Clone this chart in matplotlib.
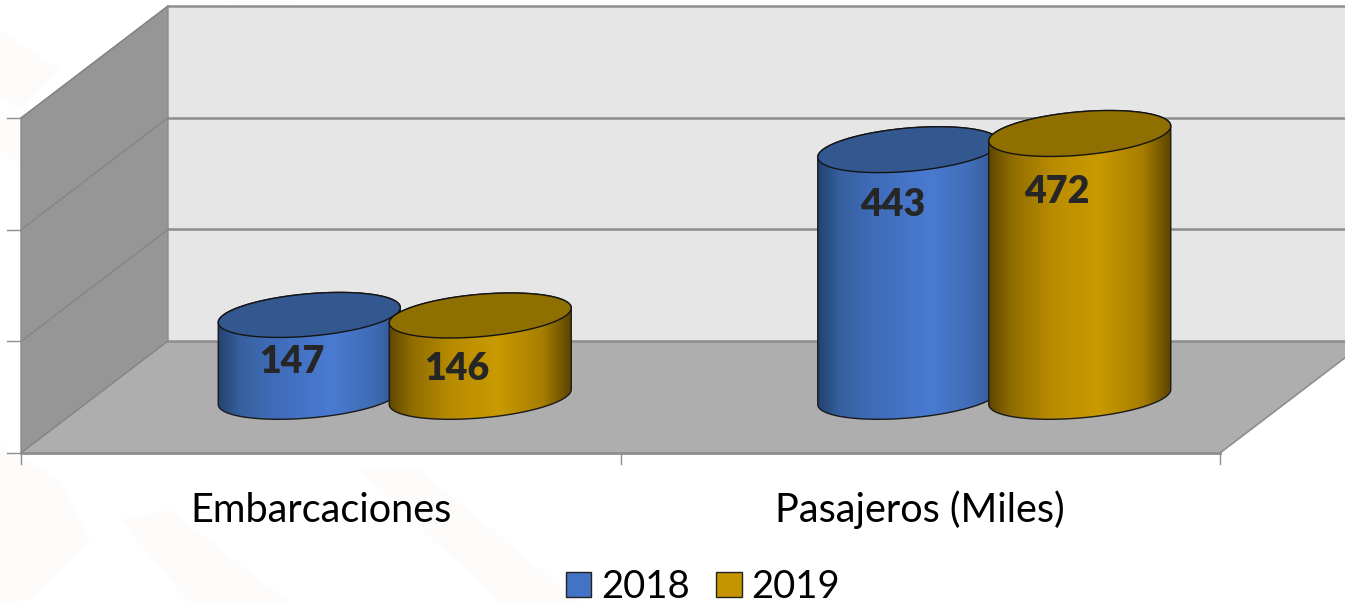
import numpy as np
import matplotlib
matplotlib.use("Agg")
import matplotlib.pyplot as plt
from matplotlib.colors import LinearSegmentedColormap
from matplotlib.patches import Polygon, Patch

categories = ["Embarcaciones", "Pasajeros (Miles)"]
years = ["2018", "2019"]
values_2018 = [147, 443]
values_2019 = [146, 472]
y_ticks = [0, 200, 400, 600]

plt.rcParams["font.family"] = ["Lato", "DejaVu Sans"]

W, H = 1345, 603
PX = 0.5583  # pixels per unit of value
Y0 = 453     # pixel row of value 0 on the front edge
DX, DY = 147, 112  # depth of the 3d box, pixels
X0, CAT_W = 21, 599.5


def u(px):
    # pixels to value units
    return px / PX


fig = plt.figure(figsize=(W / 100, H / 100), dpi=100)
ax = fig.add_axes([0, 0, 1, 1])
ax.set_xlim(0, W)
ax.set_ylim(u(Y0 - H), u(Y0))
ax.axis("off")

# faint watermark behind the chart
for band in [[(0, 30), (60, 70), (20, 110), (0, 95)],
             [(0, 110), (20, 125), (20, 165), (0, 150)],
             [(0, 445), (60, 480), (90, 540), (30, 600), (0, 603)],
             [(120, 520), (170, 510), (290, 603), (190, 603)],
             [(360, 470), (420, 470), (580, 603), (500, 603)],
             [(225, 0), (290, 0), (320, 20), (260, 20)]]:
    ax.add_patch(Polygon([(x, u(Y0 - y)) for x, y in band], fc="#fefcfa", ec="none", zorder=0))

top = y_ticks[-1]
x_end = X0 + CAT_W * len(categories)
line_c = "#8e8e8e"

# walls and floor
ax.add_patch(Polygon([(X0 + DX, u(DY)), (x_end + DX, u(DY)), (x_end + DX, top + u(DY)), (X0 + DX, top + u(DY))],
                     fc="#e6e6e6", ec="none", zorder=1))
ax.add_patch(Polygon([(X0, 0), (X0 + DX, u(DY)), (X0 + DX, top + u(DY)), (X0, top)],
                     fc="#969696", ec="#8a8a8a", lw=1, zorder=1))
ax.add_patch(Polygon([(X0, 0), (X0 + DX, u(DY)), (x_end + DX, u(DY)), (x_end, 0)],
                     fc="#aeaeae", ec="none", zorder=1))

# gridlines, wall lines and y ticks
for v in y_ticks:
    ax.plot([X0 + DX, x_end + DX], [v + u(DY), v + u(DY)], color=line_c, lw=1.8, zorder=2)
    ax.plot([X0, X0 + DX], [v, v + u(DY)], color="#858585", lw=1, zorder=2)
    ax.plot([X0 - 14, X0], [v, v], color=line_c, lw=1, zorder=2)
ax.plot([X0, x_end], [0, 0], color=line_c, lw=2, zorder=2)
ax.plot([x_end, x_end + DX], [0, u(DY)], color=line_c, lw=1.2, zorder=2)
for i in range(len(categories) + 1):
    ax.plot([X0 + CAT_W * i] * 2, [0, u(-11)], color=line_c, lw=1, zorder=2)

# cylinders
blue_map = LinearSegmentedColormap.from_list("b", [(0, "#24426f"), (0.12, "#36609f"), (0.3, "#3f6cb8"),
                                                   (0.62, "#4a7bd2"), (0.85, "#3f6cb4"), (1, "#2f5590")])
gold_map = LinearSegmentedColormap.from_list("g", [(0, "#5e4600"), (0.12, "#8f6c00"), (0.35, "#b98c00"),
                                                   (0.6, "#c99a00"), (0.85, "#a67d00"), (1, "#5c4500")])
A = 91
TILT = 7.5


def ell(cx, cy, b, t):
    # tilted ellipse, cy in value units, b in pixels
    return cx + A * np.cos(t), cy + u(TILT * np.cos(t) - b * np.sin(t))


def cylinder(cx, value, cmap, top_c, z):
    base = u(DY / 2)
    b_top = 21 + value * 0.0015
    t = np.linspace(0, np.pi, 80)
    xb, yb = ell(cx, base, 21, t)          # front of the base
    xt, yt = ell(cx, base + value, b_top, t + np.pi)  # back of the top
    body = Polygon(np.r_[np.c_[xb, yb], np.c_[xt, yt]], closed=True, fc="none", ec="#1a1a1a", lw=1, zorder=z + 0.2)
    ax.add_patch(body)
    im = ax.imshow(np.linspace(0, 1, 256).reshape(1, -1), cmap=cmap, aspect="auto", zorder=z,
                   extent=[cx - A, cx + A, base - u(30), base + value + u(30)])
    im.set_clip_path(body)
    tt = np.linspace(0, 2 * np.pi, 160)
    xe, ye = ell(cx, base + value, b_top, tt)
    ax.add_patch(Polygon(np.c_[xe, ye], closed=True, fc=top_c, ec="#141414", lw=1, zorder=z + 0.3))


series = [(values_2018, blue_map, "#33578f", -85), (values_2019, gold_map, "#8f6f00", 86)]
label_dx = [[-17, -16], [-23, -23]]
label_dy = [[47, 55], [54, 59]]
z = 3
for s, (vals, cmap, top_c, off) in enumerate(series):
    for i, v in enumerate(vals):
        cx = X0 + CAT_W * (i + 0.5) + DX / 2 + off
        cylinder(cx, v, cmap, top_c, z)
        ax.text(cx + label_dx[s][i], u(DY / 2) + v - u(label_dy[s][i]), str(v), fontsize=27, fontweight="heavy",
                color="#262626", ha="center", va="center", zorder=10)
    z += 1

ax.set_xlim(0, W)
ax.set_ylim(u(Y0 - H), u(Y0))

# category labels
for i, c in enumerate(categories):
    ax.text(X0 + CAT_W * (i + 0.5), u(-57), c, fontsize=28.5, color="black", ha="center", va="center", zorder=10)

handles = [Patch(fc="#4472c4", ec="#222222", lw=1), Patch(fc="#c49500", ec="#222222", lw=1)]
ax.legend(handles, years, loc="center", bbox_to_anchor=(703 / W, 1 - 587 / H), ncol=2, frameon=False, fontsize=27.5,
          handlelength=0.66, handleheight=0.66, handletextpad=0.25, columnspacing=0.7, borderpad=0)

fig.savefig("out.png", dpi=100)
